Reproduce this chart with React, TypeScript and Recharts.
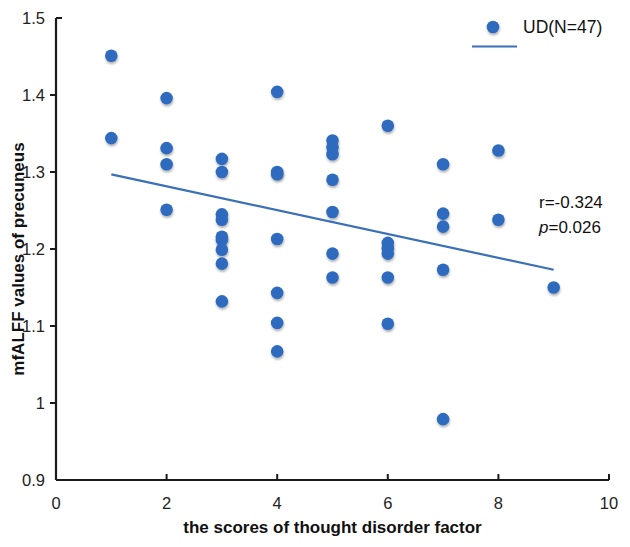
import React from "react";
import { ScatterChart, Scatter, XAxis, YAxis, ReferenceLine } from "recharts";

// Visible scatter points (score, mfALFF)
const scores = [
  1, 1,
  2, 2, 2, 2,
  3, 3, 3, 3, 3, 3, 3, 3, 3,
  4, 4, 4, 4, 4, 4, 4,
  5, 5, 5, 5, 5, 5, 5,
  6, 6, 6, 6, 6, 6,
  7, 7, 7, 7, 7,
  8, 8,
  9,
];
const mfalff = [
  1.451, 1.344,
  1.396, 1.331, 1.31, 1.251,
  1.317, 1.3, 1.245, 1.238, 1.216, 1.212, 1.199, 1.181, 1.132,
  1.404, 1.3, 1.297, 1.213, 1.143, 1.104, 1.067,
  1.341, 1.332, 1.323, 1.29, 1.248, 1.194, 1.163,
  1.36, 1.208, 1.201, 1.194, 1.163, 1.103,
  1.31, 1.246, 1.229, 1.173, 0.979,
  1.328, 1.238,
  1.15,
];

// Regression line endpoints
const fitX = [1, 9];
const fitY = [1.297, 1.173];

const xTicks = [0, 2, 4, 6, 8, 10];
const yTicks = [0.9, 1.0, 1.1, 1.2, 1.3, 1.4, 1.5];
const yTickLabels = ["0.9", "1", "1.1", "1.2", "1.3", "1.4", "1.5"];

const seriesName = "UD(N=47)";
const rText = "r=-0.324";
const pValue = "=0.026";
const xTitle = "the scores of thought disorder factor";
const yTitle = "mfALFF values of precuneus";

const data = scores.map((s, i) => ({ x: s, y: mfalff[i] }));

const DOT = "#2E6BBE";
const LINE = "#3A70B8";
const AXIS = "#1a1a1a";
const FONT = "'Liberation Sans', Arial, sans-serif";

const Dot = (props: any) => {
  const { cx, cy } = props;
  if (cx == null || cy == null) return null;
  return <circle cx={cx} cy={cy} r={6.3} fill={DOT} filter="url(#dotShadow)" />;
};

const XTick = (props: any) => {
  const { x, y, payload } = props;
  return (
    <g>
      {payload.value !== 0 && (
        <line x1={x} y1={y} x2={x} y2={y - 6} stroke={AXIS} strokeWidth={2} />
      )}
      <text x={x} y={y + 29} textAnchor="middle" fontSize={16.5} fill="#222" fontFamily={FONT}>
        {String(payload.value)}
      </text>
    </g>
  );
};

const YTick = (props: any) => {
  const { x, y, payload } = props;
  const idx = yTicks.findIndex((t) => Math.abs(t - payload.value) < 1e-9);
  const label = idx >= 0 ? yTickLabels[idx] : String(payload.value);
  const isTop = idx === yTicks.length - 1;
  return (
    <g>
      {idx !== 0 && (
        <line
          x1={x}
          y1={y}
          x2={isTop ? x + 6 : x - 6}
          y2={y}
          stroke={AXIS}
          strokeWidth={2}
        />
      )}
      <text x={x - 11} y={y + 6} textAnchor="end" fontSize={16.5} fill="#222" fontFamily={FONT}>
        {label}
      </text>
    </g>
  );
};

export default function App() {
  return (
    <div style={{ position: "absolute", left: 0, top: 0, width: 630, height: 547, background: "#fff" }}>
      <svg width={0} height={0} style={{ position: "absolute" }}>
        <defs>
          <filter id="dotShadow" x="-50%" y="-50%" width="200%" height="220%">
            <feDropShadow dx={0.5} dy={2} stdDeviation={1.3} floodColor="#000" floodOpacity={0.3} />
          </filter>
        </defs>
      </svg>
      <ScatterChart
        width={630}
        height={547}
        margin={{ top: 18, right: 21, bottom: 0, left: 0 }}
      >
        <XAxis
          type="number"
          dataKey="x"
          domain={[0, 10]}
          ticks={xTicks}
          height={67}
          tickSize={0}
          tickMargin={0}
          tickLine={false}
          axisLine={{ stroke: AXIS, strokeWidth: 2.2 }}
          tick={<XTick />}
          interval={0}
          allowDataOverflow
        />
        <YAxis
          type="number"
          dataKey="y"
          domain={[0.9, 1.5]}
          ticks={yTicks}
          width={56}
          tickSize={0}
          tickMargin={0}
          tickLine={false}
          axisLine={{ stroke: AXIS, strokeWidth: 2.2 }}
          tick={<YTick />}
          interval={0}
          allowDataOverflow
        />
        <ReferenceLine
          segment={[
            { x: fitX[0], y: fitY[0] },
            { x: fitX[1], y: fitY[1] },
          ]}
          stroke={LINE}
          strokeWidth={2.2}
          ifOverflow="visible"
        />
        <Scatter data={data} shape={<Dot />} isAnimationActive={false} />
      </ScatterChart>

      {/* axis titles */}
      <div
        style={{
          position: "absolute",
          left: 0,
          top: 518,
          width: 665,
          textAlign: "center",
          fontFamily: FONT,
          fontWeight: "bold",
          fontSize: 17,
          color: "#111",
          whiteSpace: "nowrap",
        }}
      >
        {xTitle}
      </div>
      <div
        style={{
          position: "absolute",
          left: 19 - 150,
          top: 259 - 10,
          width: 300,
          height: 20,
          lineHeight: "20px",
          textAlign: "center",
          transform: "rotate(-90deg)",
          transformOrigin: "150px 10px",
          fontFamily: FONT,
          fontWeight: "bold",
          fontSize: 17,
          color: "#111",
          whiteSpace: "nowrap",
        }}
      >
        {yTitle}
      </div>

      {/* legend */}
      <svg width={60} height={60} style={{ position: "absolute", left: 465, top: 10 }}>
        <circle cx={28} cy={17} r={6.3} fill={DOT} filter="url(#dotShadow)" />
        <line x1={7} y1={36.5} x2={52} y2={36.5} stroke={LINE} strokeWidth={2.2} />
      </svg>
      <div
        style={{
          position: "absolute",
          left: 523,
          top: 17,
          fontFamily: FONT,
          fontSize: 17.5,
          lineHeight: "20px",
          color: "#111",
          whiteSpace: "nowrap",
        }}
      >
        {seriesName}
      </div>

      {/* statistics */}
      <div
        style={{
          position: "absolute",
          left: 539,
          top: 190,
          fontFamily: FONT,
          fontSize: 17,
          lineHeight: "25px",
          color: "#111",
          whiteSpace: "nowrap",
        }}
      >
        <div>{rText}</div>
        <div>
          <i>p</i>
          {pValue}
        </div>
      </div>
    </div>
  );
}
